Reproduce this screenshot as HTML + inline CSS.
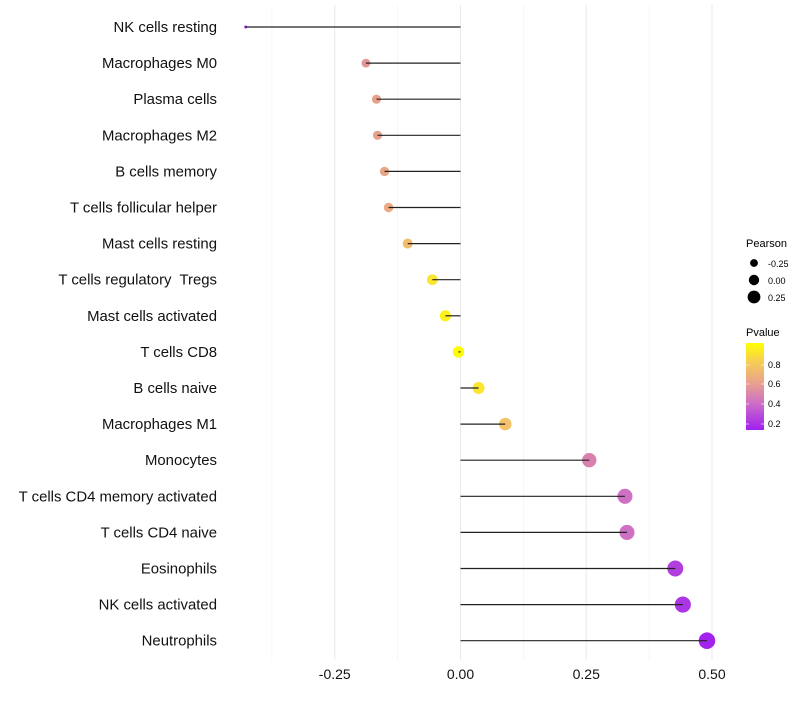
<!DOCTYPE html>
<html><head><meta charset="utf-8"><style>
body{margin:0;background:#fff;font-family:"Liberation Sans",sans-serif}
text{white-space:pre}
</style></head><body>
<svg id="chart" width="800" height="700" xmlns="http://www.w3.org/2000/svg" font-family="Liberation Sans, sans-serif">
<defs><linearGradient id="pg" x1="0" y1="1" x2="0" y2="0">
<stop offset="0" stop-color="#A020F0"/><stop offset="0.3" stop-color="#CC6CC8"/><stop offset="0.53" stop-color="#E8A090"/><stop offset="0.8" stop-color="#F8D050"/><stop offset="1" stop-color="#FFFF00"/></linearGradient></defs>
<g id="grid"></g><g id="marks"></g><g id="labels"></g>
<g font-size="10">
<text x="746" y="247" font-size="11">Pearson</text>
<circle cx="754" cy="263" r="3.9" fill="#000"/><text x="768" y="267" font-size="9">-0.25</text>
<circle cx="754" cy="280" r="5.2" fill="#000"/><text x="768" y="284" font-size="9">0.00</text>
<circle cx="754" cy="297" r="6.4" fill="#000"/><text x="768" y="301" font-size="9">0.25</text>
</g>
<g>
<text x="746" y="336" font-size="11">Pvalue</text>
<rect x="746" y="343" width="18" height="87" fill="url(#pg)"/>
<g stroke="#fff" stroke-opacity="0.6"><line x1="746" y1="365" x2="749" y2="365"/><line x1="761" y1="365" x2="764" y2="365"/><line x1="746" y1="384" x2="749" y2="384"/><line x1="761" y1="384" x2="764" y2="384"/><line x1="746" y1="404" x2="749" y2="404"/><line x1="761" y1="404" x2="764" y2="404"/><line x1="746" y1="424" x2="749" y2="424"/><line x1="761" y1="424" x2="764" y2="424"/></g>
<text x="768" y="368" font-size="9">0.8</text><text x="768" y="387" font-size="9">0.6</text><text x="768" y="407" font-size="9">0.4</text><text x="768" y="427" font-size="9">0.2</text>
</g>
</svg>
<script>
const cells=["NK cells resting","Macrophages M0","Plasma cells","Macrophages M2","B cells memory","T cells follicular helper","Mast cells resting","T cells regulatory  Tregs","Mast cells activated","T cells CD8","B cells naive","Macrophages M1","Monocytes","T cells CD4 memory activated","T cells CD4 naive","Eosinophils","NK cells activated","Neutrophils"];
const pearson=[-0.427,-0.188,-0.167,-0.165,-0.151,-0.143,-0.105,-0.056,-0.030,-0.004,0.036,0.089,0.256,0.327,0.331,0.427,0.442,0.490];
const pvalue=[0.15,0.6,0.65,0.65,0.68,0.7,0.8,0.93,0.96,0.99,0.93,0.82,0.5,0.42,0.42,0.25,0.22,0.16];
const ticks=[-0.25,0,0.25,0.5];
const tickLabels=["-0.25","0.00","0.25","0.50"];
const minor=[-0.375,-0.125,0.125,0.375];
const NS="http://www.w3.org/2000/svg";
const X=v=>460.5+v*503;
const Y=i=>27+i*36.1;
const R=v=>Math.sqrt(Math.max(1.5,2.25+(v+0.427)*72));
const stops=[[0.15,[160,32,240]],[0.4,[204,108,200]],[0.6,[228,150,150]],[0.85,[245,200,100]],[1.0,[255,255,0]]];
function col(p){p=Math.max(0.15,Math.min(1,p));for(let k=0;k<stops.length-1;k++){const[a,ca]=stops[k],[b,cb]=stops[k+1];if(p<=b){const t=(p-a)/(b-a);return`rgb(${ca.map((c,j)=>Math.round(c+(cb[j]-c)*t)).join(",")})`;}}return"rgb(255,255,0)";}
function mk(t,a,p){const e=document.createElementNS(NS,t);for(const k in a)e.setAttribute(k,a[k]);p.appendChild(e);return e;}
const grid=document.getElementById('grid'),marks=document.getElementById('marks'),labels=document.getElementById('labels');
minor.forEach(v=>{const l=mk('line',{x1:X(v),x2:X(v),y1:5,y2:660,stroke:'#f4f4f4','stroke-width':0.8},grid);

});
ticks.forEach((v,k)=>{const l=mk('line',{x1:X(v),x2:X(v),y1:5,y2:660,stroke:'#ebebeb','stroke-width':1.1},grid);


const t=mk('text',{x:X(v),y:679,'text-anchor':'middle','font-size':14,fill:'#111'},labels);t.textContent=tickLabels[k];

});
cells.forEach((c,i)=>{
const t=mk('text',{x:217,y:Y(i)+5,'text-anchor':'end','font-size':14.9,fill:'#111'},labels);t.textContent=c;


const p=mk('circle',{cx:X(pearson[i]),cy:Y(i),r:R(pearson[i]),fill:col(pvalue[i])},marks);


const s=mk('line',{x1:X(0),x2:X(pearson[i]),y1:Y(i),y2:Y(i),stroke:'#222','stroke-width':1.2},marks);

});
</script>
</body></html>
